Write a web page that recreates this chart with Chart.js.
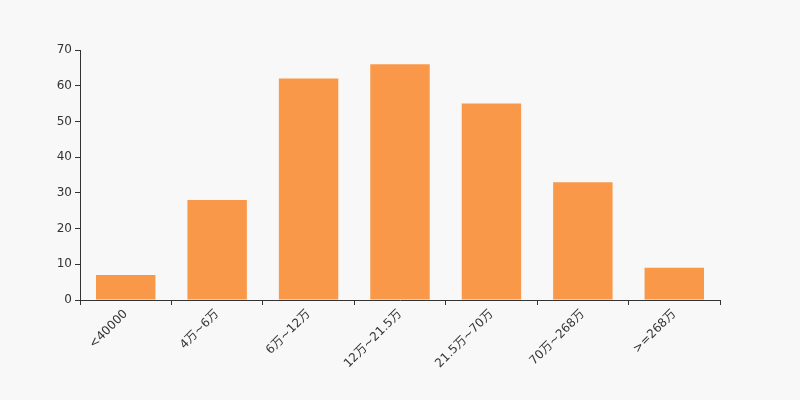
<!DOCTYPE html>
<html>
<head>
<meta charset="utf-8">
<script src="https://cdn.jsdelivr.net/npm/chart.js@4/dist/chart.umd.min.js"></script>
<style>
    html, body { margin: 0; padding: 0; background: #f8f8f8; }
    #wrap { width: 800px; height: 400px; position: relative; }
</style>
</head>
<body>
<div id="wrap"><canvas id="income-chart"></canvas></div>
<script>
const categories = ['<40000', '4万~6万', '6万~12万', '12万~21.5万', '21.5万~70万', '70万~268万', '>=268万'];
const counts = [7, 28, 62, 66, 55, 33, 9];
const yTicks = [0, 10, 20, 30, 40, 50, 60, 70];

const axisColor = '#333333';
const labelFont = { family: "'DejaVu Sans', 'Noto Sans CJK SC', sans-serif", size: 12 };

const ctx = document.getElementById('income-chart').getContext('2d');
new Chart(ctx, {
    type: 'bar',
    data: {
        labels: categories,
        datasets: [{
            data: counts,
            backgroundColor: '#f89848',
            borderWidth: 0,
            categoryPercentage: 0.65,
            barPercentage: 1
        }]
    },
    options: {
        responsive: true,
        maintainAspectRatio: false,
        animation: false,
        layout: { padding: { left: 0, right: 80, top: 50, bottom: 0 } },
        plugins: {
            legend: { display: false },
            tooltip: { enabled: false }
        },
        scales: {
            x: {
                grid: { drawOnChartArea: false, drawTicks: true, tickLength: 5, color: axisColor, offset: true },
                border: { color: axisColor, width: 1 },
                ticks: { color: axisColor, font: labelFont, minRotation: 45, maxRotation: 45, padding: 2 },
                afterFit: axis => { axis.height = 100; }
            },
            y: {
                min: 0,
                max: 70,
                afterBuildTicks: axis => { axis.ticks = yTicks.map(v => ({ value: v })); },
                grid: { drawOnChartArea: false, drawTicks: true, tickLength: 5, color: axisColor },
                border: { color: axisColor, width: 1 },
                ticks: { color: axisColor, font: labelFont, padding: 3 },
                afterFit: axis => { axis.width = 80; }
            }
        }
    }
});
</script>
</body>
</html>
